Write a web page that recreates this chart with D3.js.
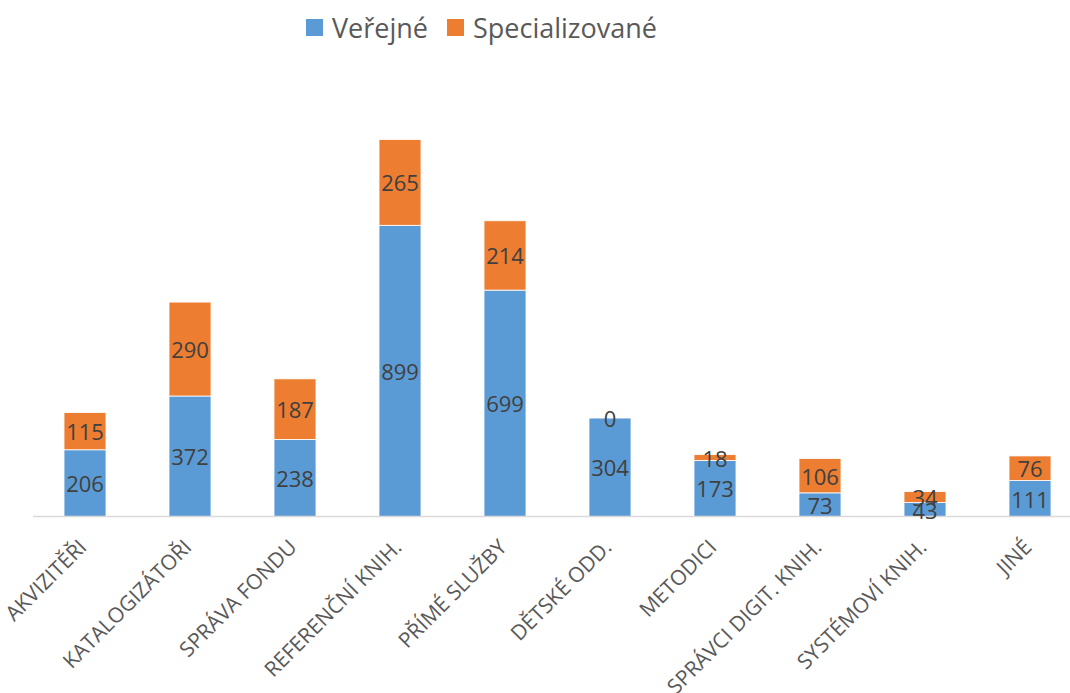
<!DOCTYPE html>
<html lang="cs">
<head>
<meta charset="UTF-8">
<title>Veřejné a specializované</title>
<script src="https://d3js.org/d3.v7.min.js"></script>
<style>
  body { margin: 0; background: #fff; overflow: hidden; }
  svg { display: block; font-family: "Open Sans", "DejaVu Sans", sans-serif; }
  .val { font-size: 22px; fill: #404040; text-anchor: middle; dominant-baseline: central; }
  .cat { font-size: 21px; fill: #595959; text-anchor: end; }
  .leg { font-size: 27px; fill: #595959; dominant-baseline: central; }
</style>
</head>
<body>
<svg id="chart" width="1070" height="693"></svg>
<script>
// data
const categories = ["AKVIZITĚŘI", "KATALOGIZÁTOŘI", "SPRÁVA FONDU", "REFERENČNÍ KNIH.", "PŘÍMÉ SLUŽBY",
  "DĚTSKÉ ODD.", "METODICI", "SPRÁVCI DIGIT. KNIH.", "SYSTÉMOVÍ KNIH.", "JINÉ"];
const verejne = [206, 372, 238, 899, 699, 304, 173, 73, 43, 111];
const specializovane = [115, 290, 187, 265, 214, 0, 18, 106, 34, 76];
const seriesNames = ["Veřejné", "Specializované"];
const colors = ["#5B9BD5", "#ED7D31"];

const svg = d3.select("#chart");
const baseY = 516.5;

const x = d3.scaleBand().domain(categories).range([32.5, 1082.5]).paddingInner(0.6).paddingOuter(0.3);
const y = d3.scaleLinear().domain([0, 1200]).range([baseY, baseY - 1200 * 0.3239]);

const rows = categories.map((c, i) => ({ cat: c, v: verejne[i], s: specializovane[i] }));
const stack = d3.stack().keys(["v", "s"])(rows);

// bars
stack.forEach((layer, li) => {
  const g = svg.append("g");
  g.selectAll("rect").data(layer).join("rect")
    .attr("x", d => x(d.data.cat))
    .attr("width", x.bandwidth())
    .attr("y", d => y(d[1]))
    .attr("height", d => y(d[0]) - y(d[1]))
    .attr("fill", colors[li])
    .attr("stroke", "#fff")
    .attr("stroke-width", 0.8);
});

// axis line
svg.append("line")
  .attr("x1", 33).attr("x2", 1070)
  .attr("y1", baseY).attr("y2", baseY)
  .attr("stroke", "#d9d9d9").attr("stroke-width", 1.5);

// value labels
stack.forEach((layer, li) => {
  svg.append("g").selectAll("text").data(layer).join("text")
    .attr("class", "val")
    .attr("x", d => x(d.data.cat) + x.bandwidth() / 2)
    .attr("y", d => (y(d[0]) + y(d[1])) / 2)
    .text(d => d[1] - d[0]);
});

// category labels
svg.append("g").selectAll("text").data(categories).join("text")
  .attr("class", "cat")
  .attr("transform", d => `translate(${x(d) + x.bandwidth() / 2 + 3},${baseY + 32}) rotate(-45)`)
  .text(d => d);

// legend
const leg = svg.append("g");
const legX = [306, 447];
seriesNames.forEach((n, i) => {
  leg.append("rect").attr("x", legX[i]).attr("y", 19).attr("width", 17).attr("height", 17).attr("fill", colors[i]);
  leg.append("text").attr("class", "leg").attr("x", legX[i] + 26).attr("y", 27).text(n);
});
</script>
</body>
</html>
